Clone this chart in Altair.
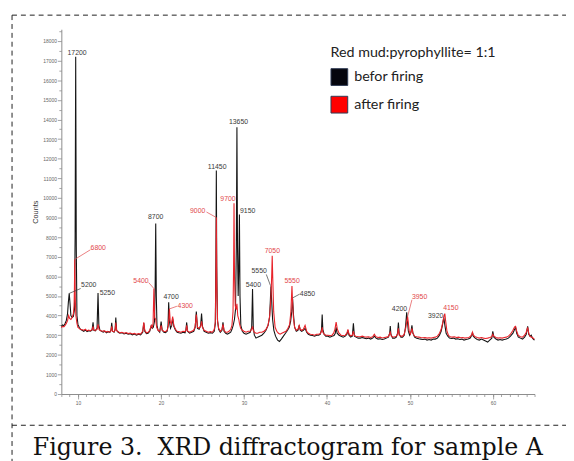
import altair as alt
import pandas as pd

# ---------------- data ----------------
# (2-theta, counts) vertices of the "befor firing" trace
black_profile = [
    (8.00, 3450), (8.15, 3520), (8.30, 3480), (8.45, 3600), (8.60, 3750), (8.75, 4100),
    (8.85, 4700), (8.95, 5130), (9.05, 4600), (9.15, 4000), (9.30, 3900), (9.45, 3950),
    (9.58, 4300), (9.66, 8000), (9.73, 17200), (9.80, 7500), (9.88, 4000), (10.00, 3550),
    (10.15, 3400), (10.30, 3300), (10.50, 3250), (10.70, 3200), (10.90, 3260), (11.10, 3180),
    (11.30, 3230), (11.50, 3200), (11.70, 3260), (11.82, 3650), (11.92, 3250), (12.10, 3220),
    (12.30, 3350), (12.42, 5150), (12.52, 3500), (12.65, 3250), (12.85, 3200), (13.05, 3150),
    (13.25, 3200), (13.45, 3120), (13.65, 3180), (13.85, 3150), (13.98, 3250), (14.07, 3630),
    (14.17, 3200), (14.35, 3150), (14.48, 3300), (14.56, 3900), (14.66, 3250), (14.85, 3150),
    (15.05, 3100), (15.30, 3130), (15.55, 3060), (15.80, 3100), (16.05, 3050), (16.30, 3080),
    (16.55, 3020), (16.80, 3060), (17.05, 3000), (17.30, 3050), (17.55, 3020), (17.80, 3150),
    (17.93, 3620), (18.05, 3200), (18.25, 3080), (18.45, 3100), (18.65, 3200), (18.83, 3470),
    (18.95, 3350), (19.08, 3400), (19.22, 3700), (19.30, 5500), (19.37, 8700), (19.44, 5000),
    (19.52, 3500), (19.65, 3250), (19.85, 3150), (20.02, 3700), (20.15, 3250), (20.35, 3150),
    (20.55, 3130), (20.75, 3200), (20.85, 3500), (20.93, 4680), (21.02, 3700), (21.15, 3350),
    (21.30, 3500), (21.41, 3850), (21.55, 3450), (21.75, 3250), (21.95, 3150), (22.15, 3120),
    (22.40, 3100), (22.65, 3150), (22.90, 3120), (23.00, 3250), (23.10, 3650), (23.20, 3200),
    (23.45, 3100), (23.70, 3150), (23.95, 3200), (24.12, 3400), (24.26, 4200), (24.40, 3350),
    (24.60, 3300), (24.78, 3500), (24.89, 4100), (25.00, 3450), (25.20, 3200), (25.45, 3150),
    (25.70, 3100), (25.95, 3130), (26.20, 3100), (26.42, 3200), (26.55, 3600), (26.62, 7000),
    (26.67, 11400), (26.72, 6500), (26.80, 3800), (26.95, 3300), (27.15, 3150), (27.35, 3250),
    (27.47, 3650), (27.60, 3200), (27.80, 3100), (28.00, 3050), (28.20, 3100), (28.40, 3150),
    (28.55, 3300), (28.70, 3500), (28.85, 3800), (28.98, 4300), (29.08, 7500), (29.15, 13600),
    (29.22, 7500), (29.30, 5000), (29.38, 6500), (29.45, 9150), (29.52, 5000), (29.62, 3500),
    (29.80, 3200), (30.00, 3100), (30.25, 3050), (30.50, 3100), (30.75, 3150), (30.93, 3400),
    (31.03, 5350), (31.12, 3400), (31.25, 3000), (31.45, 2850), (31.65, 2900), (31.90, 2950),
    (32.15, 3000), (32.40, 3100), (32.65, 3250), (32.90, 3500), (33.08, 3900), (33.18, 4800),
    (33.25, 5500), (33.33, 4800), (33.45, 3800), (33.60, 3250), (33.80, 2950), (34.05, 2750),
    (34.27, 2680), (34.50, 2800), (34.75, 2950), (35.00, 3100), (35.25, 3250), (35.45, 3400),
    (35.62, 3700), (35.75, 4200), (35.86, 4850), (35.97, 4000), (36.10, 3400), (36.30, 3200),
    (36.50, 3250), (36.65, 3500), (36.78, 3250), (36.95, 3200), (37.15, 3250), (37.36, 3350),
    (37.55, 3150), (37.75, 3050), (38.00, 3000), (38.25, 2980), (38.50, 2950), (38.75, 3000),
    (39.00, 3000), (39.20, 3050), (39.34, 3300), (39.42, 4050), (39.50, 3300), (39.65, 3050),
    (39.85, 2950), (40.10, 2950), (40.35, 2900), (40.60, 2950), (40.85, 2980), (41.00, 3100),
    (41.10, 3400), (41.22, 3100), (41.45, 3000), (41.70, 2950), (41.95, 2900), (42.20, 2950),
    (42.40, 3050), (42.52, 3250), (42.65, 3000), (42.85, 2900), (43.05, 2950), (43.18, 3600),
    (43.30, 2950), (43.50, 2900), (43.75, 2850), (44.00, 2850), (44.25, 2880), (44.50, 2850),
    (44.75, 2820), (45.00, 2850), (45.25, 2800), (45.50, 2850), (45.70, 2950), (45.90, 2850),
    (46.15, 2800), (46.40, 2820), (46.65, 2780), (46.90, 2800), (47.15, 2850), (47.40, 2900),
    (47.55, 3100), (47.62, 3470), (47.70, 3050), (47.90, 2850), (48.15, 2850), (48.35, 2900),
    (48.50, 3100), (48.60, 3640), (48.70, 3050), (48.90, 2900), (49.10, 2900), (49.30, 3000),
    (49.45, 3400), (49.55, 3900), (49.60, 4170), (49.67, 3800), (49.80, 3200), (49.95, 3000),
    (50.10, 3150), (50.23, 3500), (50.35, 3100), (50.55, 2900), (50.80, 2850), (51.05, 2820),
    (51.30, 2800), (51.55, 2780), (51.80, 2800), (52.05, 2750), (52.30, 2780), (52.55, 2750),
    (52.80, 2800), (53.05, 2800), (53.30, 2850), (53.55, 3000), (53.75, 3200), (53.90, 3500),
    (54.07, 3900), (54.20, 3500), (54.35, 3100), (54.55, 2950), (54.75, 2850), (55.00, 2830),
    (55.25, 2850), (55.50, 2800), (55.75, 2820), (56.00, 2780), (56.25, 2800), (56.50, 2750),
    (56.75, 2780), (57.00, 2800), (57.25, 2850), (57.45, 3000), (57.52, 3150), (57.62, 2950),
    (57.85, 2850), (58.10, 2780), (58.35, 2750), (58.60, 2800), (58.85, 2750), (59.10, 2700),
    (59.35, 2650), (59.60, 2750), (59.85, 2850), (59.97, 3200), (60.10, 2900), (60.35, 2800),
    (60.60, 2750), (60.85, 2780), (61.10, 2750), (61.35, 2780), (61.60, 2800), (61.85, 2850),
    (62.10, 2950), (62.40, 3100), (62.60, 3300), (62.72, 3380), (62.85, 3100), (63.05, 2900),
    (63.30, 2850), (63.55, 2800), (63.80, 2900), (64.00, 3050), (64.17, 3450), (64.30, 3050),
    (64.45, 2950), (64.60, 3000), (64.75, 2850), (64.90, 2780), (65.00, 2750),
]

# (2-theta, counts) vertices of the "after firing" trace
red_profile = [
    (8.00, 3380), (8.15, 3450), (8.30, 3420), (8.45, 3500), (8.60, 3600), (8.75, 3750),
    (8.88, 4000), (9.00, 3850), (9.15, 3800), (9.30, 3900), (9.45, 4100), (9.54, 4500),
    (9.58, 5500), (9.62, 6870), (9.67, 5000), (9.75, 4000), (9.88, 3600), (10.00, 3400),
    (10.15, 3350), (10.30, 3300), (10.50, 3280), (10.70, 3250), (10.90, 3300), (11.10, 3220),
    (11.30, 3260), (11.50, 3230), (11.70, 3280), (11.82, 3450), (11.92, 3250), (12.10, 3250),
    (12.30, 3300), (12.42, 3550), (12.55, 3280), (12.75, 3230), (12.95, 3200), (13.15, 3230),
    (13.35, 3160), (13.55, 3200), (13.75, 3150), (13.95, 3200), (14.07, 3450), (14.17, 3200),
    (14.35, 3180), (14.48, 3250), (14.56, 3650), (14.66, 3230), (14.85, 3180), (15.05, 3120),
    (15.30, 3150), (15.55, 3100), (15.80, 3130), (16.05, 3080), (16.30, 3110), (16.55, 3060),
    (16.80, 3090), (17.05, 3050), (17.30, 3080), (17.55, 3060), (17.80, 3200), (17.93, 3650),
    (18.05, 3250), (18.25, 3120), (18.45, 3150), (18.65, 3250), (18.83, 3500), (18.95, 3400),
    (19.05, 3600), (19.15, 5380), (19.24, 3900), (19.37, 3800), (19.48, 3400), (19.65, 3250),
    (19.85, 3200), (20.02, 3500), (20.15, 3250), (20.35, 3200), (20.55, 3180), (20.75, 3250),
    (20.90, 3500), (21.02, 4340), (21.12, 3700), (21.25, 3550), (21.41, 3950), (21.55, 3500),
    (21.75, 3300), (21.95, 3200), (22.15, 3180), (22.40, 3150), (22.65, 3200), (22.90, 3180),
    (23.00, 3250), (23.10, 3500), (23.20, 3220), (23.45, 3150), (23.70, 3200), (23.95, 3250),
    (24.12, 3450), (24.26, 4050), (24.40, 3400), (24.60, 3350), (24.78, 3450), (24.89, 3700),
    (25.00, 3400), (25.20, 3250), (25.45, 3200), (25.70, 3150), (25.95, 3180), (26.20, 3150),
    (26.42, 3300), (26.55, 3700), (26.62, 6000), (26.67, 9000), (26.73, 5500), (26.82, 3700),
    (26.95, 3350), (27.15, 3200), (27.35, 3300), (27.47, 3550), (27.60, 3250), (27.80, 3150),
    (28.00, 3150), (28.20, 3200), (28.40, 3300), (28.55, 3500), (28.68, 4200), (28.75, 6500),
    (28.80, 9730), (28.86, 6000), (28.95, 4500), (29.05, 4300), (29.15, 4600), (29.25, 4000),
    (29.38, 3800), (29.45, 3600), (29.60, 3350), (29.80, 3250), (30.00, 3200), (30.25, 3150),
    (30.50, 3200), (30.75, 3200), (30.93, 3300), (31.03, 3450), (31.12, 3250), (31.25, 3150),
    (31.45, 3100), (31.65, 3100), (31.90, 3150), (32.15, 3150), (32.40, 3200), (32.65, 3300),
    (32.90, 3500), (33.10, 4000), (33.25, 4900), (33.35, 6200), (33.40, 7050), (33.46, 6000),
    (33.58, 4200), (33.75, 3400), (33.95, 3200), (34.15, 3100), (34.35, 3050), (34.55, 3100),
    (34.80, 3150), (35.05, 3200), (35.30, 3350), (35.50, 3550), (35.65, 4200), (35.72, 4900),
    (35.78, 5510), (35.85, 4700), (35.95, 3900), (36.10, 3400), (36.30, 3250), (36.50, 3300),
    (36.65, 3500), (36.78, 3300), (36.95, 3250), (37.15, 3300), (37.36, 3500), (37.55, 3200),
    (37.75, 3100), (38.00, 3050), (38.25, 3030), (38.50, 3000), (38.75, 3050), (39.00, 3050),
    (39.20, 3080), (39.34, 3200), (39.42, 3400), (39.50, 3150), (39.65, 3050), (39.85, 3000),
    (40.10, 3000), (40.35, 2980), (40.60, 3000), (40.80, 3100), (40.95, 3300), (41.10, 3670),
    (41.25, 3300), (41.45, 3100), (41.70, 3000), (41.95, 2980), (42.20, 3000), (42.40, 3100),
    (42.52, 3300), (42.65, 3050), (42.85, 2980), (43.05, 3000), (43.18, 3200), (43.30, 2980),
    (43.50, 2950), (43.75, 2930), (44.00, 2920), (44.25, 2950), (44.50, 2920), (44.75, 2900),
    (45.00, 2920), (45.25, 2880), (45.50, 2920), (45.70, 3050), (45.90, 2920), (46.15, 2880),
    (46.40, 2900), (46.65, 2860), (46.90, 2880), (47.15, 2900), (47.40, 2930), (47.62, 3150),
    (47.75, 2950), (47.95, 2900), (48.15, 2920), (48.35, 2950), (48.50, 3050), (48.60, 3350),
    (48.70, 3000), (48.90, 2950), (49.10, 2950), (49.30, 3050), (49.50, 3400), (49.64, 3800),
    (49.71, 3950), (49.78, 3700), (49.90, 3200), (50.05, 3050), (50.15, 3200), (50.23, 3350),
    (50.35, 3100), (50.55, 2950), (50.80, 2920), (51.05, 2900), (51.30, 2880), (51.55, 2870),
    (51.80, 2880), (52.05, 2850), (52.30, 2870), (52.55, 2850), (52.80, 2880), (53.05, 2900),
    (53.30, 2950), (53.55, 3100), (53.75, 3300), (53.95, 3650), (54.10, 4000), (54.19, 4100),
    (54.30, 3700), (54.45, 3200), (54.65, 2980), (54.85, 2920), (55.10, 2900), (55.35, 2920),
    (55.60, 2880), (55.85, 2900), (56.10, 2870), (56.35, 2880), (56.60, 2850), (56.85, 2870),
    (57.10, 2880), (57.30, 2950), (57.45, 3050), (57.52, 3150), (57.62, 3000), (57.85, 2920),
    (58.10, 2880), (58.35, 2850), (58.60, 2880), (58.85, 2850), (59.10, 2830), (59.35, 2850),
    (59.60, 2880), (59.85, 2920), (59.97, 3050), (60.10, 2950), (60.35, 2880), (60.60, 2850),
    (60.85, 2870), (61.10, 2850), (61.35, 2880), (61.60, 2900), (61.85, 2950), (62.10, 3050),
    (62.40, 3250), (62.60, 3420), (62.72, 3450), (62.85, 3200), (63.05, 2980), (63.30, 2920),
    (63.55, 2900), (63.80, 3000), (64.00, 3150), (64.17, 3400), (64.30, 3100), (64.45, 2950),
    (64.60, 2900), (64.75, 2880), (64.90, 2820), (65.00, 2800),
]

# peak annotations (text, left x in 2-theta, y in counts)
black_label_text = ["17200", "5200", "5250", "8700", "4700", "11450", "13650", "9150",
                    "5400", "5550", "4850", "4200", "3920"]
black_label_x = [8.74, 10.38, 12.62, 18.44, 20.30, 25.65, 28.19, 29.52, 30.20, 30.91, 36.73, 47.81, 52.17]
black_label_y = [17380, 5546, 5128, 9000, 4957, 11594, 13856, 9331, 5546, 6265, 5093, 4339, 3952]

red_label_text = ["6800", "5400", "4300", "9000", "9700", "7050", "5550", "3950", "4150"]
red_label_x = [11.52, 16.67, 22.00, 23.50, 27.15, 32.49, 34.87, 50.23, 53.99]
red_label_y = [7441, 5762, 4475, 9331, 9955, 7305, 5762, 4927, 4374]

# leader lines from peak tops to their labels
black_leader_x = [8.95, 33.20, 35.86]
black_leader_y = [5130, 5520, 4900]
black_leader_x2 = [10.33, 32.69, 36.70]
black_leader_y2 = [5380, 6098, 5093]

red_leader_x = [9.64, 19.15, 21.02, 26.67, 49.71]
red_leader_y = [6870, 5380, 4339, 9000, 3950]
red_leader_x2 = [11.50, 18.52, 21.92, 25.48, 50.23]
red_leader_y2 = [7355, 5681, 4475, 9281, 4806]

series_names = ["befor firing", "after firing"]
legend_title = "Red mud:pyrophyllite= 1:1"
y_title = "Counts"
caption = "Figure 3.\u00a0 XRD diffractogram for sample A"

x_domain = [8, 65]
y_domain = [0, 18600]
x_major_ticks = [10, 20, 30, 40, 50, 60]
x_minor_ticks = list(range(8, 66))
y_major_ticks = list(range(0, 18001, 1000))
y_minor_ticks = list(range(500, 18501, 1000))

# ---------------- styling ----------------
BLACK = "#151515"
RED = "#e8232a"
BLACK_TXT = "#3a3a3a"
RED_TXT = "#e2474b"
AXIS = "#8c8c8c"
TICK_FONT = "Liberation Sans"

black_df = pd.DataFrame(black_profile, columns=["tt", "counts"])
red_df = pd.DataFrame(red_profile, columns=["tt", "counts"])

xs = alt.Scale(domain=x_domain, nice=False, zero=False)
ys = alt.Scale(domain=y_domain, nice=False, zero=False)

x_major_axis = alt.Axis(values=x_major_ticks, orient="bottom", title=None, grid=False,
                        domainColor=AXIS, tickColor=AXIS, tickSize=5, tickWidth=0.8,
                        labelFontSize=5, labelColor="#666666", labelFont=TICK_FONT,
                        labelPadding=2)
x_minor_axis = alt.Axis(values=x_minor_ticks, orient="bottom", title=None, grid=False,
                        domain=False, labels=False, tickColor=AXIS, tickSize=2.5, tickWidth=0.8)
y_major_axis = alt.Axis(values=y_major_ticks, orient="left", title=y_title, grid=False,
                        format="d", domainColor=AXIS, tickColor=AXIS, tickSize=4, tickWidth=0.8,
                        labelFontSize=5, labelColor="#666666", labelFont=TICK_FONT,
                        labelPadding=1, titleFont=TICK_FONT, titleFontSize=7.5,
                        titleFontWeight="normal", titleColor="#333333", titlePadding=3)
y_minor_axis = alt.Axis(values=y_minor_ticks, orient="left", title=None, grid=False,
                        domain=False, labels=False, tickColor=AXIS, tickSize=2.5, tickWidth=0.8)

black_line = alt.Chart(black_df).mark_line(color=BLACK, strokeWidth=1.1).encode(
    x=alt.X("tt:Q", scale=xs, axis=x_major_axis),
    y=alt.Y("counts:Q", scale=ys, axis=y_major_axis),
)
red_line = alt.Chart(red_df).mark_line(color=RED, strokeWidth=1.1).encode(
    x=alt.X("tt:Q", scale=xs, axis=x_minor_axis),
    y=alt.Y("counts:Q", scale=ys, axis=y_minor_axis),
)


def labels(texts, xv, yv, color):
    df = pd.DataFrame({"label": texts, "x": xv, "y": yv})
    return alt.Chart(df).mark_text(align="left", baseline="middle", fontSize=7,
                                   font=TICK_FONT, color=color).encode(
        x=alt.X("x:Q", scale=xs, axis=None),
        y=alt.Y("y:Q", scale=ys, axis=None),
        text="label:N",
    )


def leaders(x1, y1, x2, y2, color):
    df = pd.DataFrame({"x": x1, "y": y1, "x2": x2, "y2": y2})
    return alt.Chart(df).mark_rule(color=color, strokeWidth=0.7).encode(
        x=alt.X("x:Q", scale=xs, axis=None),
        y=alt.Y("y:Q", scale=ys, axis=None),
        x2="x2:Q",
        y2="y2:Q",
    )


legend_layer = alt.Chart(pd.DataFrame({"series": series_names})).transform_filter(
    "false"
).mark_square(filled=True, size=289, opacity=1, stroke="#2f3b55", strokeWidth=1).encode(
    color=alt.Color(
        "series:N",
        scale=alt.Scale(domain=series_names, range=["#05050d", "#ff0000"]),
        legend=alt.Legend(
            title=legend_title, orient="none", legendX=273, legendY=17,
            direction="vertical", symbolType="square", symbolSize=289,
            symbolOpacity=1, symbolStrokeColor="#2f3b55", symbolStrokeWidth=1,
            labelFont="Lato", labelFontSize=14.5, labelColor="#222222",
            titleFont="Lato", titleFontSize=14.5, titleFontWeight="normal",
            titleColor="#222222", titlePadding=8, rowPadding=6, labelOffset=6,
            padding=0, titleLimit=400, labelLimit=300,
        ),
    )
)

one = alt.Data(values=[{}])
dash = dict(color="#1e1e1e", strokeWidth=1, strokeDash=[5, 4])
frame_top = alt.Chart(one).mark_rule(**dash).encode(
    x=alt.value(-50), x2=alt.value(520), y=alt.value(-14.3))
frame_left = alt.Chart(one).mark_rule(**dash).encode(
    x=alt.value(-50), y=alt.value(-14.3), y2=alt.value(440))
frame_mid = alt.Chart(one).mark_rule(**dash).encode(
    x=alt.value(-50), x2=alt.value(520), y=alt.value(401.7))
caption_text = alt.Chart(one).mark_text(
    align="left", baseline="alphabetic", font="DejaVu Serif", fontSize=24, color="#111111"
).encode(x=alt.value(-29), y=alt.value(431.7), text=alt.value(caption))

chart = alt.layer(
    black_line, red_line,
    leaders(black_leader_x, black_leader_y, black_leader_x2, black_leader_y2, BLACK_TXT),
    leaders(red_leader_x, red_leader_y, red_leader_x2, red_leader_y2, RED_TXT),
    labels(black_label_text, black_label_x, black_label_y, BLACK_TXT),
    labels(red_label_text, red_label_x, red_label_y, RED_TXT),
    legend_layer, frame_top, frame_left, frame_mid, caption_text,
).resolve_axis(x="independent", y="independent").properties(
    width=480, height=370,
    autosize=alt.AutoSizeParams(type="none"),
    padding={"left": 54.1, "top": 18.3, "right": 31.9, "bottom": 64.7},
    background="white",
).configure_view(stroke="transparent")

chart.save("out.html", embed_options={"renderer": "svg", "actions": False})
